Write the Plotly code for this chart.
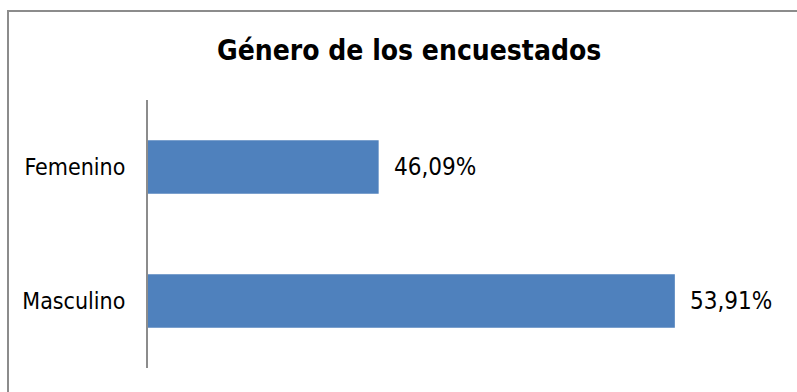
import plotly.graph_objects as go

categories = ["Femenino", "Masculino"]
values = [46.09, 53.91]
title_text = "Género de los encuestados"
axis_min, axis_max = 40, 56

W, H = 797, 392
L, R, T, B = 148, 43, 100, 24
pw, ph = W - L - R, H - T - B

FONT = "DejaVu Sans Condensed, DejaVu Sans, sans-serif"

fig = go.Figure(go.Bar(
    x=values, y=categories, orientation="h",
    marker=dict(color="#4F81BD", line=dict(width=0)),
    width=0.4, hoverinfo="skip",
))

for c, v in zip(categories, values):
    fig.add_annotation(x=v, y=c, xref="x", yref="y",
                       text=f"{v:.2f}".replace(".", ",") + "%",
                       showarrow=False, xanchor="left", xshift=13,
                       font=dict(family=FONT, size=24, color="#000000"))

def px_to_paper_x(px):
    return (px - L) / pw

def px_to_paper_y(py):
    return (H - B - py) / ph

fig.add_shape(type="rect", xref="paper", yref="paper",
              x0=px_to_paper_x(8), x1=px_to_paper_x(830),
              y0=px_to_paper_y(430), y1=px_to_paper_y(11),
              line=dict(color="#8C8C8C", width=2), layer="below")

fig.add_annotation(x=px_to_paper_x(409), y=px_to_paper_y(50), xref="paper", yref="paper",
                   text="<b>" + title_text + "</b>", showarrow=False,
                   xanchor="center", yanchor="middle",
                   font=dict(family=FONT, size=28, color="#000000"))

fig.update_layout(
    width=W, height=H,
    margin=dict(l=L, r=R, t=T, b=B, pad=0),
    paper_bgcolor="white", plot_bgcolor="white",
    showlegend=False,
    font=dict(family=FONT, size=23, color="#000000"),
    xaxis=dict(range=[axis_min, axis_max], showgrid=False, zeroline=False,
               showline=False, showticklabels=False, ticks=""),
    yaxis=dict(categoryorder="array", categoryarray=categories,
               autorange="reversed", showgrid=False, zeroline=False,
               showline=True, linecolor="#8C8C8C", linewidth=2,
               ticks="", ticklabelstandoff=16,
               tickfont=dict(family=FONT, size=23, color="#000000")),
)

fig.write_html("out.html")
